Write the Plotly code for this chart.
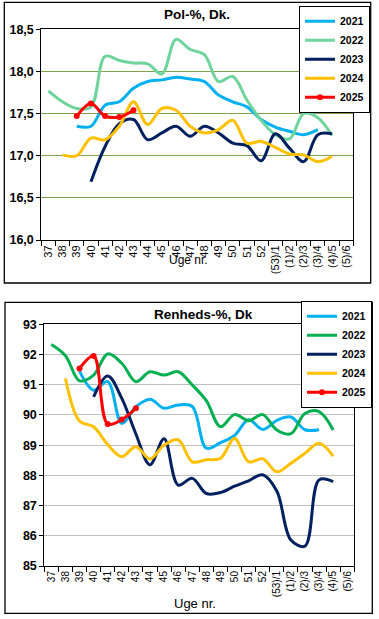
import plotly.graph_objects as go

W, H = 379, 619

weeks = ["37", "38", "39", "40", "41", "42", "43", "44", "45", "46", "47", "48",
         "49", "50", "51", "52", "(53)/1", "(1)/2", "(2)/3", "(3)/4", "(4)/5", "(5)/6"]

years = ["2021", "2022", "2023", "2024", "2025"]

# Pol-%, Dk.
pol_2021 = [None, None, 17.35, 17.35, 17.60, 17.64, 17.80, 17.88, 17.90, 17.93, 17.91, 17.88,
            17.72, 17.64, 17.58, 17.43, 17.34, 17.29, 17.25, 17.31, None, None]
pol_2022 = [17.77, 17.64, 17.56, 17.58, 18.18, 18.13, 18.10, 18.09, 17.97, 18.38, 18.26, 18.20,
            17.88, 17.94, 17.66, 17.42, 17.25, 17.20, 17.50, 17.45, 17.24, None]
pol_2023 = [None, None, None, 16.69, 17.11, 17.38, 17.43, 17.19, 17.27, 17.35, 17.23, 17.35,
            17.27, 17.15, 17.12, 16.94, 17.26, 17.09, 16.93, 17.25, 17.26, None]
pol_2024 = [None, 17.01, 17.00, 17.21, 17.19, 17.35, 17.64, 17.37, 17.56, 17.54, 17.35, 17.27,
            17.31, 17.42, 17.15, 17.17, 17.10, 17.02, 17.01, 16.93, 16.99, None]
pol_2025 = [None, None, 17.47, 17.62, 17.47, 17.46, 17.54, None, None, None, None, None,
            None, None, None, None, None, None, None, None, None, None]

# Renheds-%, Dk
ren_2021 = [None, None, 91.45, 90.82, 91.10, 89.72, 90.27, 90.52, 90.22, 90.33, 90.28, 88.90,
            89.08, 89.32, 89.84, 89.52, 89.82, 89.93, 89.51, 89.51, None, None]
ren_2022 = [92.33, 91.96, 91.13, 91.32, 92.02, 91.71, 91.10, 91.43, 91.32, 91.43, 90.99, 90.47,
            89.61, 90.01, 89.81, 90.01, 89.50, 89.38, 90.05, 90.11, 89.50, None]
ren_2023 = [None, None, None, 90.60, 91.29, 90.55, 89.37, 88.35, 89.21, 87.68, 87.90, 87.40,
            87.43, 87.64, 87.82, 88.02, 87.48, 85.86, 85.66, 87.85, 87.79, None]
ren_2024 = [None, 91.21, 89.80, 89.61, 89.02, 88.62, 88.95, 88.54, 89.00, 89.18, 88.45, 88.52,
            88.56, 89.22, 88.45, 88.55, 88.12, 88.40, 88.73, 89.06, 88.64, None]
ren_2025 = [None, None, 91.54, 91.95, 89.70, 89.85, 90.22, None, None, None, None, None,
            None, None, None, None, None, None, None, None, None, None]

pol_ticks = [16.0, 16.5, 17.0, 17.5, 18.0, 18.5]
ren_ticks = [85, 86, 87, 88, 89, 90, 91, 92, 93]

pol_colors = ["#00B0F0", "#6FD39C", "#002060", "#FFC000", "#FF0000"]
ren_colors = ["#00B0F0", "#00B050", "#002060", "#FFC000", "#FF0000"]

FONT = "Arial, Liberation Sans, sans-serif"

fig = go.Figure()

pol_series = [pol_2021, pol_2022, pol_2023, pol_2024, pol_2025]
ren_series = [ren_2021, ren_2022, ren_2023, ren_2024, ren_2025]

for yr, vals, col in zip(years, pol_series, pol_colors):
    is25 = yr == "2025"
    fig.add_trace(go.Scatter(
        x=weeks, y=vals, name=yr, xaxis="x", yaxis="y", legend="legend",
        mode="lines+markers" if is25 else "lines",
        line=dict(color=col, width=3, shape="spline", smoothing=1.0),
        marker=dict(size=6, color=col, symbol="circle"),
        connectgaps=False, hoverinfo="skip"))

for yr, vals, col in zip(years, ren_series, ren_colors):
    is25 = yr == "2025"
    fig.add_trace(go.Scatter(
        x=weeks, y=vals, name=yr, xaxis="x2", yaxis="y2", legend="legend2",
        mode="lines+markers" if is25 else "lines",
        line=dict(color=col, width=3, shape="spline", smoothing=1.0),
        marker=dict(size=6, color=col, symbol="circle"),
        connectgaps=False, hoverinfo="skip"))

def px_x(v):
    return v / W

def px_y(v):
    return 1 - v / H

xcommon = dict(type="category", categoryorder="array", categoryarray=weeks,
               range=[-0.5, len(weeks) - 0.5], tickson="boundaries",
               ticks="outside", ticklen=5, tickcolor="black", tickwidth=1,
               showline=True, linecolor="black", linewidth=1, mirror=True,
               showgrid=False, tickangle=-90, zeroline=False, fixedrange=True,
               automargin=False)

fig.update_layout(
    width=W, height=H,
    margin=dict(l=0, r=0, t=0, b=0, autoexpand=False),
    paper_bgcolor="white", plot_bgcolor="white",
    separators=",.",
    font=dict(family=FONT, color="black"),
    xaxis=dict(domain=[px_x(41.3), px_x(353.3)], anchor="y",
               tickfont=dict(family=FONT, size=11, color="black"), **xcommon),
    yaxis=dict(domain=[px_y(240), px_y(29.3)], anchor="x", range=[16.0, 18.5],
               tickvals=pol_ticks, tickformat=".1f",
               showgrid=True, gridcolor="#80A04A", gridwidth=1,
               showline=True, linecolor="black", linewidth=1, mirror=True,
               ticks="outside", ticklen=4, tickcolor="black",
               tickfont=dict(family=FONT, size=12.5, color="black", weight="bold"),
               zeroline=False, fixedrange=True, automargin=False),
    xaxis2=dict(domain=[px_x(44.3), px_x(354.3)], anchor="y2",
                tickfont=dict(family=FONT, size=10, color="black"), **xcommon),
    yaxis2=dict(domain=[px_y(566), px_y(324.3)], anchor="x2", range=[85, 93],
                tickvals=ren_ticks,
                showgrid=True, gridcolor="#BFBFBF", gridwidth=1,
                showline=True, linecolor="black", linewidth=1, mirror=True,
                ticks="outside", ticklen=4, tickcolor="black",
                tickfont=dict(family=FONT, size=12.5, color="black", weight="bold"),
                zeroline=False, fixedrange=True, automargin=False),
    legend=dict(xref="container", yref="container",
                x=px_x(370), xanchor="right", y=px_y(5.7), yanchor="top",
                bgcolor="white", bordercolor="black", borderwidth=1,
                font=dict(family=FONT, size=10.5, color="black", weight="bold"),
                itemwidth=30, traceorder="normal"),
    legend2=dict(xref="container", yref="container",
                 x=px_x(372), xanchor="right", y=px_y(300.7), yanchor="top",
                 bgcolor="white", bordercolor="black", borderwidth=1,
                 font=dict(family=FONT, size=10.5, color="black", weight="bold"),
                 itemwidth=30, traceorder="normal"),
    showlegend=True,
)

# outer chart borders
fig.add_shape(type="rect", xref="paper", yref="paper",
              x0=px_x(4.3), x1=px_x(370.7), y0=px_y(283), y1=px_y(2.3),
              line=dict(color="black", width=1.3), layer="below")
fig.add_shape(type="rect", xref="paper", yref="paper",
              x0=px_x(5), x1=px_x(372.3), y0=px_y(613.3), y1=px_y(302.3),
              line=dict(color="black", width=1.3), layer="below")

# titles and axis titles
fig.add_annotation(text="Pol-%, Dk.", xref="paper", yref="paper",
                   x=px_x(197), y=px_y(14), xanchor="center", yanchor="middle",
                   showarrow=False,
                   font=dict(family=FONT, size=13.5, color="black", weight="bold"))
fig.add_annotation(text="Renheds-%, Dk", xref="paper", yref="paper",
                   x=px_x(203), y=px_y(314), xanchor="center", yanchor="middle",
                   showarrow=False,
                   font=dict(family=FONT, size=13.5, color="black", weight="bold"))
fig.add_annotation(text="Uge nr.", xref="paper", yref="paper",
                   x=px_x(188), y=px_y(260), xanchor="center", yanchor="middle",
                   showarrow=False,
                   font=dict(family=FONT, size=12, color="black"))
fig.add_annotation(text="Uge nr.", xref="paper", yref="paper",
                   x=px_x(194.5), y=px_y(603), xanchor="center", yanchor="middle",
                   showarrow=False,
                   font=dict(family=FONT, size=13, color="black"))

fig.write_html("out.html",
               config={"displayModeBar": False},
               post_script="document.body.style.margin='0';document.body.style.overflow='hidden';")
